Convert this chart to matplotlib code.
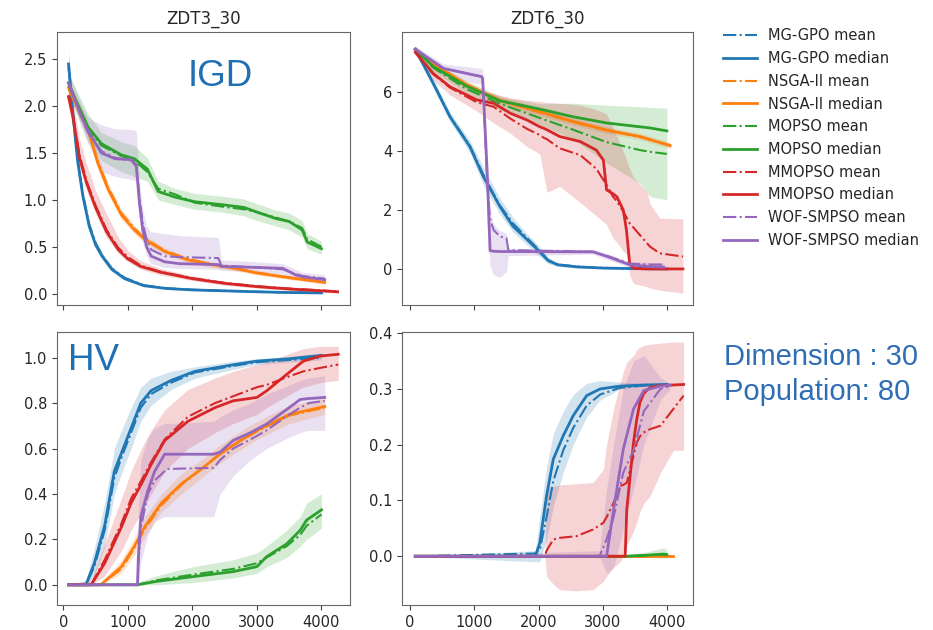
import matplotlib
matplotlib.use("Agg")
import matplotlib.pyplot as plt
import numpy as np

ALGOS = ["MG-GPO", "NSGA-II", "MOPSO", "MMOPSO", "WOF-SMPSO"]
COLORS = ["#1f77b4", "#ff7f0e", "#2ca02c", "#d62728", "#9467bd"]

# ---------------- ZDT3_30 IGD ----------------
Z3I_MGGPO_X = [80, 150, 220, 300, 400, 500, 600, 750, 950, 1250, 1600, 2000, 2500, 3000, 3500, 4000]
Z3I_MGGPO_MED = [2.45, 1.90, 1.42, 1.05, 0.72, 0.52, 0.40, 0.26, 0.16, 0.085, 0.055, 0.04, 0.03, 0.02, 0.012, 0.008]
Z3I_MGGPO_MEAN = [2.42, 1.92, 1.45, 1.07, 0.74, 0.54, 0.41, 0.27, 0.17, 0.09, 0.058, 0.042, 0.031, 0.021, 0.013, 0.009]
Z3I_MGGPO_LO = [2.30, 1.80, 1.35, 1.00, 0.68, 0.49, 0.37, 0.24, 0.145, 0.075, 0.048, 0.035, 0.025, 0.016, 0.009, 0.005]
Z3I_MGGPO_HI = [2.60, 2.02, 1.52, 1.12, 0.78, 0.57, 0.44, 0.29, 0.18, 0.10, 0.065, 0.048, 0.036, 0.025, 0.016, 0.012]

Z3I_NSGA_X = [80, 200, 380, 530, 690, 900, 1100, 1260, 1570, 1930, 2300, 2650, 3000, 3500, 4050]
Z3I_NSGA_MED = [2.20, 2.02, 1.76, 1.40, 1.12, 0.84, 0.68, 0.58, 0.45, 0.36, 0.31, 0.27, 0.22, 0.17, 0.12]
Z3I_NSGA_MEAN = [2.18, 2.00, 1.74, 1.42, 1.14, 0.86, 0.70, 0.59, 0.46, 0.37, 0.315, 0.275, 0.225, 0.175, 0.125]
Z3I_NSGA_LO = [2.12, 1.94, 1.68, 1.34, 1.06, 0.79, 0.64, 0.54, 0.42, 0.33, 0.28, 0.245, 0.20, 0.15, 0.10]
Z3I_NSGA_HI = [2.28, 2.10, 1.84, 1.48, 1.19, 0.90, 0.73, 0.62, 0.49, 0.39, 0.34, 0.30, 0.25, 0.195, 0.14]

Z3I_MOPSO_X = [80, 170, 380, 590, 900, 1100, 1300, 1470, 1730, 2040, 2450, 2800, 3000, 3300, 3500, 3700, 3780, 4000]
Z3I_MOPSO_MED = [2.25, 2.10, 1.78, 1.60, 1.48, 1.44, 1.33, 1.09, 1.03, 0.98, 0.95, 0.92, 0.87, 0.80, 0.77, 0.68, 0.55, 0.48]
Z3I_MOPSO_MEAN = [2.23, 2.08, 1.76, 1.58, 1.47, 1.42, 1.30, 1.12, 1.06, 0.97, 0.93, 0.90, 0.87, 0.81, 0.77, 0.70, 0.58, 0.50]
Z3I_MOPSO_LO = [2.15, 1.98, 1.62, 1.42, 1.30, 1.25, 1.20, 1.00, 0.95, 0.90, 0.87, 0.83, 0.78, 0.72, 0.68, 0.60, 0.48, 0.42]
Z3I_MOPSO_HI = [2.35, 2.22, 1.92, 1.72, 1.62, 1.58, 1.45, 1.20, 1.12, 1.07, 1.04, 1.01, 0.96, 0.89, 0.86, 0.78, 0.64, 0.56]

Z3I_MMOPSO_X = [80, 150, 250, 360, 500, 670, 850, 1000, 1200, 1500, 2000, 2500, 3000, 3500, 4000, 4250]
Z3I_MMOPSO_MED = [2.10, 1.88, 1.45, 1.18, 0.92, 0.66, 0.47, 0.37, 0.29, 0.23, 0.16, 0.11, 0.075, 0.05, 0.03, 0.02]
Z3I_MMOPSO_MEAN = [2.12, 1.90, 1.48, 1.20, 0.94, 0.68, 0.49, 0.39, 0.30, 0.235, 0.165, 0.115, 0.08, 0.055, 0.035, 0.025]
Z3I_MMOPSO_LO = [2.00, 1.76, 1.35, 1.10, 0.85, 0.60, 0.43, 0.34, 0.26, 0.20, 0.14, 0.09, 0.06, 0.035, 0.015, 0.005]
Z3I_MMOPSO_HI = [2.25, 2.05, 1.65, 1.38, 1.10, 0.85, 0.60, 0.46, 0.35, 0.27, 0.19, 0.13, 0.095, 0.07, 0.05, 0.04]

Z3I_WOF_X = [80, 280, 380, 590, 800, 1050, 1130, 1150, 1180, 1230, 1290, 1360, 1570, 1800, 2400, 2450, 3000, 3400, 3600, 3700, 4050]
Z3I_WOF_MED = [2.25, 1.89, 1.74, 1.50, 1.44, 1.43, 1.36, 1.20, 0.96, 0.68, 0.50, 0.40, 0.34, 0.32, 0.31, 0.29, 0.28, 0.27, 0.20, 0.18, 0.15]
Z3I_WOF_MEAN = [2.24, 1.88, 1.72, 1.52, 1.45, 1.42, 1.38, 1.25, 1.02, 0.75, 0.58, 0.47, 0.40, 0.39, 0.38, 0.30, 0.28, 0.26, 0.21, 0.19, 0.16]
Z3I_WOF_LO = [2.15, 1.78, 1.60, 1.30, 1.25, 1.22, 1.20, 1.05, 0.80, 0.55, 0.40, 0.32, 0.28, 0.27, 0.26, 0.25, 0.23, 0.21, 0.16, 0.14, 0.12]
Z3I_WOF_HI = [2.35, 2.02, 1.88, 1.80, 1.76, 1.75, 1.74, 1.50, 1.20, 0.90, 0.72, 0.66, 0.64, 0.62, 0.60, 0.36, 0.34, 0.32, 0.26, 0.23, 0.20]

# ---------------- ZDT6_30 IGD ----------------
Z6I_MGGPO_X = [80, 360, 620, 930, 1140, 1200, 1400, 1600, 1800, 2000, 2150, 2300, 2600, 3000, 3500, 4000]
Z6I_MGGPO_MED = [7.45, 6.29, 5.16, 4.15, 3.13, 2.90, 2.11, 1.45, 1.04, 0.62, 0.28, 0.14, 0.07, 0.03, 0.01, 0.0]
Z6I_MGGPO_MEAN = [7.45, 6.30, 5.18, 4.18, 3.20, 2.95, 2.15, 1.55, 1.10, 0.66, 0.30, 0.15, 0.08, 0.035, 0.012, 0.002]
Z6I_MGGPO_LO = [7.35, 6.15, 5.00, 3.95, 2.85, 2.60, 1.85, 1.25, 0.85, 0.45, 0.18, 0.08, 0.03, 0.01, 0.0, -0.02]
Z6I_MGGPO_HI = [7.55, 6.45, 5.32, 4.35, 3.45, 3.20, 2.40, 1.75, 1.25, 0.80, 0.40, 0.22, 0.12, 0.06, 0.03, 0.02]

Z6I_NSGA_X = [80, 360, 880, 1400, 2020, 2540, 3060, 3580, 4050]
Z6I_NSGA_MED = [7.45, 6.95, 6.25, 5.72, 5.33, 5.00, 4.71, 4.49, 4.18]
Z6I_NSGA_MEAN = [7.45, 6.93, 6.22, 5.70, 5.30, 4.98, 4.70, 4.47, 4.20]
Z6I_NSGA_LO = [7.35, 6.85, 6.12, 5.58, 5.20, 4.88, 4.60, 4.38, 4.08]
Z6I_NSGA_HI = [7.55, 7.05, 6.38, 5.85, 5.46, 5.12, 4.82, 4.60, 4.30]

Z6I_MOPSO_X = [80, 360, 880, 1400, 2020, 2540, 3060, 3580, 3740, 4000]
Z6I_MOPSO_MED = [7.45, 6.86, 6.20, 5.70, 5.42, 5.16, 4.95, 4.82, 4.78, 4.68]
Z6I_MOPSO_MEAN = [7.45, 6.82, 6.10, 5.60, 5.12, 4.72, 4.30, 4.03, 3.97, 3.90]
Z6I_MOPSO_LO = [7.35, 6.70, 5.95, 5.40, 4.90, 4.40, 3.60, 2.90, 2.45, 2.35]
Z6I_MOPSO_HI = [7.55, 7.00, 6.35, 5.85, 5.60, 5.62, 5.55, 5.50, 5.48, 5.45]

Z6I_MMOPSO_X = [80, 360, 620, 1040, 1300, 1560, 1820, 2020, 2080, 2130, 2330, 2650, 2900, 3010, 3060,
                3160, 3220, 3320, 3370, 3420, 3480, 3690, 3740, 3890, 4250]
Z6I_MMOPSO_MED = [7.35, 6.63, 6.18, 5.73, 5.62, 5.28, 5.05, 4.82, 4.77, 4.72, 4.49, 4.32, 4.03, 3.69, 2.68,
                  2.55, 2.45, 2.00, 1.32, 0.19, 0.02, 0.0, 0.0, 0.0, 0.0]
Z6I_MMOPSO_MEAN = [7.35, 6.60, 6.15, 5.65, 5.50, 5.10, 4.75, 4.54, 4.45, 4.40, 4.09, 3.86, 3.40, 3.02, 2.85,
                   2.45, 2.30, 1.95, 1.75, 1.55, 1.40, 0.87, 0.75, 0.53, 0.42]
Z6I_MMOPSO_LO = [7.25, 6.40, 5.90, 5.35, 4.95, 4.60, 4.15, 3.90, 3.20, 2.60, 2.80, 2.25, 1.80, 1.60, 1.50,
                 1.05, 0.90, 0.60, 0.50, -0.20, -0.50, -0.60, -0.65, -0.72, -0.82]
Z6I_MMOPSO_HI = [7.45, 6.85, 6.45, 6.05, 5.95, 5.80, 5.72, 5.68, 5.66, 5.65, 5.62, 5.55, 5.40, 5.30, 5.25,
                 4.80, 4.50, 4.00, 3.70, 3.40, 3.10, 2.60, 2.20, 1.72, 1.70]

Z6I_WOF_X = [80, 520, 1115, 1130, 1200, 1245, 1300, 1400, 1500, 1530, 2850, 3100, 3420, 3740, 3950]
Z6I_WOF_MED = [7.45, 6.80, 6.52, 6.45, 3.30, 0.62, 0.60, 0.59, 0.59, 0.59, 0.58, 0.40, 0.14, 0.08, 0.06]
Z6I_WOF_MEAN = [7.45, 6.80, 6.52, 6.45, 2.90, 1.70, 1.32, 1.10, 1.04, 0.64, 0.58, 0.42, 0.18, 0.15, 0.15]
Z6I_WOF_LO = [7.35, 6.55, 6.25, 6.20, 1.50, 0.10, -0.20, -0.28, -0.10, 0.45, 0.50, 0.30, 0.05, 0.02, 0.0]
Z6I_WOF_HI = [7.55, 6.95, 6.80, 6.75, 3.50, 2.00, 1.50, 1.30, 1.20, 0.70, 0.66, 0.50, 0.25, 0.22, 0.20]

# ---------------- ZDT3_30 HV ----------------
Z3H_MGGPO_X = [80, 350, 480, 640, 790, 900, 1050, 1200, 1360, 1670, 2040, 2660, 3000, 3500, 4000]
Z3H_MGGPO_MED = [0, 0, 0.095, 0.26, 0.50, 0.58, 0.69, 0.80, 0.855, 0.90, 0.94, 0.97, 0.985, 0.995, 1.01]
Z3H_MGGPO_MEAN = [0, 0, 0.08, 0.24, 0.47, 0.56, 0.67, 0.78, 0.84, 0.89, 0.935, 0.965, 0.98, 0.99, 1.0]
Z3H_MGGPO_LO = [0, 0, 0.04, 0.17, 0.40, 0.49, 0.60, 0.72, 0.79, 0.86, 0.91, 0.95, 0.97, 0.98, 0.99]
Z3H_MGGPO_HI = [0, 0.02, 0.16, 0.36, 0.60, 0.68, 0.78, 0.87, 0.91, 0.94, 0.96, 0.985, 0.995, 1.005, 1.02]

Z3H_NSGA_X = [80, 580, 900, 1100, 1260, 1520, 1830, 2140, 2400, 2660, 3000, 3500, 4050]
Z3H_NSGA_MED = [0, 0, 0.08, 0.17, 0.255, 0.36, 0.445, 0.51, 0.57, 0.62, 0.68, 0.75, 0.785]
Z3H_NSGA_MEAN = [0, 0, 0.07, 0.16, 0.245, 0.35, 0.44, 0.51, 0.57, 0.62, 0.675, 0.745, 0.78]
Z3H_NSGA_LO = [0, 0, 0.05, 0.13, 0.21, 0.32, 0.40, 0.47, 0.53, 0.58, 0.64, 0.71, 0.75]
Z3H_NSGA_HI = [0, 0.01, 0.11, 0.21, 0.30, 0.40, 0.49, 0.55, 0.61, 0.66, 0.72, 0.79, 0.82]

Z3H_MOPSO_X = [80, 1150, 1440, 2010, 2630, 3000, 3150, 3460, 3670, 3770, 4000]
Z3H_MOPSO_MED = [0, 0, 0.015, 0.036, 0.058, 0.08, 0.124, 0.18, 0.24, 0.285, 0.33]
Z3H_MOPSO_MEAN = [0, 0, 0.02, 0.045, 0.07, 0.095, 0.12, 0.17, 0.22, 0.26, 0.31]
Z3H_MOPSO_LO = [0, 0, 0.0, 0.01, 0.03, 0.05, 0.08, 0.12, 0.17, 0.20, 0.25]
Z3H_MOPSO_HI = [0, 0.01, 0.04, 0.08, 0.11, 0.14, 0.17, 0.24, 0.30, 0.36, 0.40]

Z3H_MMOPSO_X = [80, 430, 640, 900, 1050, 1210, 1360, 1570, 1930, 2350, 2630, 3000, 3150, 3520, 3720, 3980, 4260]
Z3H_MMOPSO_MED = [0, 0, 0.095, 0.255, 0.36, 0.445, 0.53, 0.635, 0.72, 0.78, 0.81, 0.825, 0.854, 0.94, 0.985, 1.007, 1.015]
Z3H_MMOPSO_MEAN = [0, 0, 0.11, 0.27, 0.38, 0.46, 0.54, 0.64, 0.74, 0.80, 0.83, 0.87, 0.88, 0.92, 0.94, 0.955, 0.97]
Z3H_MMOPSO_LO = [0, 0, 0.04, 0.15, 0.24, 0.32, 0.40, 0.50, 0.60, 0.67, 0.71, 0.75, 0.78, 0.84, 0.87, 0.89, 0.90]
Z3H_MMOPSO_HI = [0, 0.02, 0.18, 0.38, 0.50, 0.60, 0.68, 0.77, 0.86, 0.91, 0.94, 0.97, 0.98, 1.02, 1.04, 1.05, 1.05]

Z3H_WOF_X = [80, 1150, 1160, 1200, 1310, 1415, 1570, 1600, 2330, 2430, 2630, 2900, 3150, 3500, 3670, 3800, 4050]
Z3H_WOF_MED = [0, 0, 0.11, 0.30, 0.415, 0.50, 0.575, 0.575, 0.575, 0.584, 0.635, 0.67, 0.708, 0.78, 0.816, 0.82, 0.825]
Z3H_WOF_MEAN = [0, 0, 0.08, 0.25, 0.40, 0.46, 0.50, 0.51, 0.515, 0.55, 0.60, 0.64, 0.68, 0.75, 0.78, 0.80, 0.81]
Z3H_WOF_LO = [0, 0, 0.0, 0.10, 0.22, 0.28, 0.30, 0.30, 0.30, 0.40, 0.48, 0.55, 0.60, 0.65, 0.67, 0.68, 0.68]
Z3H_WOF_HI = [0, 0.0, 0.30, 0.55, 0.65, 0.69, 0.71, 0.71, 0.72, 0.74, 0.77, 0.80, 0.84, 0.88, 0.90, 0.91, 0.92]

# ---------------- ZDT6_30 HV ----------------
Z6H_MGGPO_X = [80, 1950, 2020, 2125, 2230, 2385, 2540, 2750, 2960, 3270, 3640, 4000]
Z6H_MGGPO_MED = [0, 0, 0.024, 0.108, 0.174, 0.216, 0.252, 0.288, 0.30, 0.305, 0.307, 0.308]
Z6H_MGGPO_MEAN = [0, 0.005, 0.012, 0.07, 0.135, 0.19, 0.23, 0.27, 0.29, 0.302, 0.306, 0.308]
Z6H_MGGPO_LO = [0, -0.01, -0.01, 0.03, 0.09, 0.15, 0.20, 0.25, 0.28, 0.30, 0.305, 0.306]
Z6H_MGGPO_HI = [0, 0.01, 0.07, 0.16, 0.22, 0.26, 0.29, 0.31, 0.315, 0.312, 0.31, 0.31]

Z6H_NSGA_X = [80, 4100]
Z6H_NSGA_MED = [0, 0]
Z6H_NSGA_MEAN = [0, 0]
Z6H_NSGA_LO = [0, 0]
Z6H_NSGA_HI = [0, 0]

Z6H_MOPSO_X = [80, 3350, 3700, 3950, 4000]
Z6H_MOPSO_MED = [0, 0, 0.002, 0.004, 0.003]
Z6H_MOPSO_MEAN = [0, 0, 0.002, 0.003, 0.002]
Z6H_MOPSO_LO = [0, 0, -0.002, -0.003, -0.003]
Z6H_MOPSO_HI = [0, 0.002, 0.008, 0.015, 0.012]

Z6H_MMOPSO_X = [80, 2100, 2125, 2230, 2330, 2590, 2850, 3010, 3060, 3170, 3270, 3320, 3350, 3375,
                3480, 3530, 3580, 3640, 3740, 3900, 4100, 4260]
Z6H_MMOPSO_MED = [0, 0, 0, 0, 0, 0, 0, 0, 0, 0, 0, 0, 0, 0.084,
                  0.204, 0.245, 0.276, 0.292, 0.303, 0.306, 0.307, 0.308]
Z6H_MMOPSO_MEAN = [0, 0, 0.01, 0.03, 0.033, 0.036, 0.048, 0.06, 0.07, 0.096, 0.126, 0.128, 0.13, 0.132,
                   0.18, 0.204, 0.215, 0.222, 0.228, 0.234, 0.264, 0.288]
Z6H_MMOPSO_LO = [0, 0, -0.036, -0.05, -0.06, -0.062, -0.06, -0.045, -0.036, -0.02, -0.01, 0.0, 0.01, 0.02,
                 0.045, 0.06, 0.08, 0.095, 0.108, 0.15, 0.19, 0.19]
Z6H_MMOPSO_HI = [0, 0, 0.12, 0.125, 0.128, 0.13, 0.132, 0.156, 0.20, 0.264, 0.31, 0.33, 0.34, 0.348,
                 0.36, 0.37, 0.375, 0.378, 0.38, 0.382, 0.384, 0.384]

Z6H_WOF_X = [80, 2950, 3060, 3170, 3320, 3480, 3640, 3900, 4050]
Z6H_WOF_MED = [0, 0, 0.0, 0.084, 0.192, 0.264, 0.297, 0.305, 0.307]
Z6H_WOF_MEAN = [0, 0.0, 0.03, 0.07, 0.15, 0.19, 0.26, 0.30, 0.305]
Z6H_WOF_LO = [0, 0, -0.03, -0.02, 0.05, 0.12, 0.20, 0.28, 0.30]
Z6H_WOF_HI = [0, 0.01, 0.12, 0.20, 0.30, 0.35, 0.36, 0.32, 0.31]


def _series(prefix):
    g = globals()
    out = []
    for key in ["MGGPO", "NSGA", "MOPSO", "MMOPSO", "WOF"]:
        base = f"{prefix}_{key}_"
        out.append((g[base + "X"], g[base + "MEAN"], g[base + "MED"], g[base + "LO"], g[base + "HI"]))
    return out


def _draw(ax, series):
    for name, color, (x, mean, med, lo, hi) in zip(ALGOS, COLORS, series):
        ax.plot(x, mean, linestyle="-.", color=color, linewidth=1.5, label=f"{name} mean")
        ax.plot(x, med, linestyle="-", color=color, linewidth=2, label=f"{name} median")
        ax.fill_between(x, lo, hi, color=color, alpha=0.2, linewidth=0)


fig = plt.figure(figsize=(9.33, 6.3), dpi=100)
ax_tl = fig.add_axes([0.061, 0.516, 0.314, 0.433])
ax_tr = fig.add_axes([0.431, 0.516, 0.312, 0.433])
ax_bl = fig.add_axes([0.061, 0.040, 0.314, 0.433])
ax_br = fig.add_axes([0.431, 0.040, 0.312, 0.433])

_draw(ax_tl, _series("Z3I"))
_draw(ax_tr, _series("Z6I"))
_draw(ax_bl, _series("Z3H"))
_draw(ax_br, _series("Z6H"))

ax_tl.set_xlim(-100, 4440)
ax_bl.set_xlim(-100, 4440)
ax_tr.set_xlim(-125, 4410)
ax_br.set_xlim(-125, 4410)
ax_tl.set_ylim(-0.12, 2.79)
ax_tr.set_ylim(-1.22, 8.03)
ax_bl.set_ylim(-0.088, 1.113)
ax_br.set_ylim(-0.087, 0.402)

ax_tl.set_yticks([0.0, 0.5, 1.0, 1.5, 2.0, 2.5])
ax_tr.set_yticks([0, 2, 4, 6])
ax_bl.set_yticks([0.0, 0.2, 0.4, 0.6, 0.8, 1.0])
ax_br.set_yticks([0.0, 0.1, 0.2, 0.3, 0.4])

for ax in [ax_tl, ax_tr, ax_bl, ax_br]:
    ax.set_xticks([0, 1000, 2000, 3000, 4000])
    ax.tick_params(labelsize=10.5, colors="0.25", labelcolor="0.15")
    for sp in ax.spines.values():
        sp.set_color("0.4")
for ax in [ax_tl, ax_tr]:
    ax.tick_params(labelbottom=False)

ax_tl.set_title("ZDT3_30", fontsize=12, color="0.15", pad=6.3)
ax_tr.set_title("ZDT6_30", fontsize=12, color="0.15", pad=6.3)

ax_tl.text(0.556, 0.836, "IGD", transform=ax_tl.transAxes, ha="center", va="center",
           fontsize=26.5, color="#1f6fb5", family="Liberation Sans")
ax_bl.text(0.126, 0.894, "HV", transform=ax_bl.transAxes, ha="center", va="center",
           fontsize=26.5, color="#1f6fb5", family="Liberation Sans")

fig.text(0.776, 0.4206, "Dimension : 30", ha="left", va="baseline", fontsize=21,
         color="#2f6db5", family="Liberation Sans")
fig.text(0.776, 0.365, "Population: 80", ha="left", va="baseline", fontsize=21,
         color="#2f6db5", family="Liberation Sans")

handles, labels = ax_tl.get_legend_handles_labels()
fig.legend(handles, labels, loc="upper left", bbox_to_anchor=(0.775, 0.955), frameon=False,
           fontsize=10.5, labelspacing=0.53, handlelength=2.3, handletextpad=0.75,
           borderpad=0, borderaxespad=0, labelcolor="0.15")

fig.savefig("out.png", dpi=100)
